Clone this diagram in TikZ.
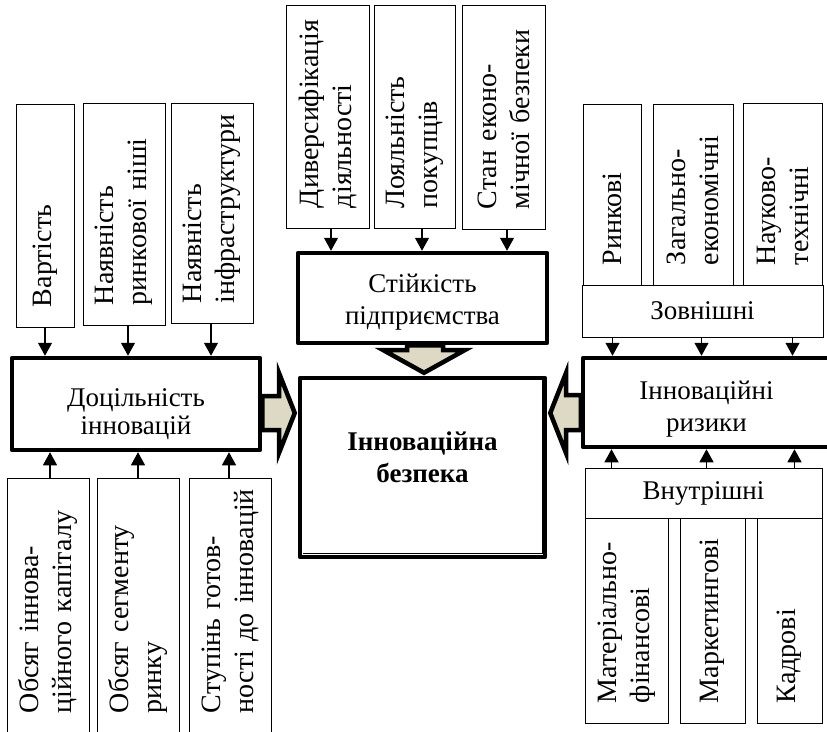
\documentclass[tikz,border=0pt]{standalone}
\usepackage{fontspec}
\setmainfont{Liberation Serif}
\usetikzlibrary{arrows.meta,calc}
\definecolor{arrfill}{RGB}{221,217,196}
\hfuzz=40pt
\hbadness=10000
\begin{document}
\begin{tikzpicture}[x=1pt,y=-1pt,
  every node/.style={font=\fontsize{27}{32}\selectfont},
  vbox/.style={draw, line width=1pt, rotate=90, inner xsep=20pt, align=left, fill=white,
    font=\fontsize{28}{33}\selectfont},
  hbox/.style={draw, line width=1pt, align=center, fill=white},
  tbox/.style={draw, line width=4.5pt, line join=round, fill=white},
  lbl/.style={align=center, inner sep=0pt},
  arr/.style={line width=1.2pt, -{Triangle[width=14pt,length=13pt]}},
  blockarr/.style={draw, line width=4.5pt, fill=arrfill, line join=miter},
  thinline/.style={line width=0.9pt}]
\useasboundingbox (0,0) rectangle (827,731);
\clip (0,0) rectangle (827,731);

% left top
\node[vbox, minimum width=223pt, minimum height=58pt, text width=183pt] (L1) at (45,215.5) {Вартість};
\node[vbox, minimum width=222pt, minimum height=82pt, text width=182pt] (L2) at (124,214) {Наявність\\\mbox{ринкової ніші}};
\node[vbox, minimum width=220pt, minimum height=82pt, text width=180pt] (L3) at (212,213) {Наявність\\\mbox{інфраструктури}};
% top centre
\node[vbox, minimum width=223pt, minimum height=83pt, text width=183pt] (T1) at (327.5,116.5) {\mbox{Диверсифікація}\\діяльності};
\node[vbox, minimum width=223pt, minimum height=81pt, text width=183pt] (T2) at (414.5,116.5) {Лояльність\\покупців};
\node[vbox, minimum width=224pt, minimum height=83pt, text width=184pt] (T3) at (503.5,117) {\mbox{Стан еконо-}\\\mbox{мічної безпеки}};
% right top
\node[vbox, minimum width=181pt, minimum height=58pt, text width=141pt] (R1) at (612,194.5) {Ринкові};
\node[vbox, minimum width=181pt, minimum height=80pt, text width=141pt] (R2) at (693,194.5) {Загально-\\економічні};
\node[vbox, minimum width=182pt, minimum height=79pt, text width=142pt] (R3) at (782.5,194) {Науково-\\технічні};
% left bottom
\node[vbox, minimum width=255pt, minimum height=82pt, text width=215pt] (B1) at (48,605.5) {\mbox{Обсяг іннова-}\\\mbox{ційного капіталу}};
\node[vbox, minimum width=255pt, minimum height=82pt, text width=215pt] (B2) at (138,605.5) {\mbox{Обсяг сегменту}\\ринку};
\node[vbox, minimum width=255pt, minimum height=82pt, text width=215pt] (B3) at (230,605.5) {\mbox{Ступінь готов-}\\\mbox{ності до інновацій}};
% right bottom
\node[vbox, minimum width=205pt, minimum height=83pt, text width=165pt] (BR1) at (626.5,620.5) {Матеріально-\\фінансові};
\node[vbox, minimum width=205pt, minimum height=65pt, text width=165pt] (BR2) at (712.5,620.5) {Маркетингові};
\node[vbox, minimum width=205pt, minimum height=65pt, text width=165pt] (BR3) at (789.5,620.5) {Кадрові};

% main boxes
\node[tbox, minimum width=248pt, minimum height=92pt,
  label={[lbl, name=Dt, yshift=-10pt, font=\fontsize{27}{28}\selectfont]center:Доцільність\\інновацій}] (D) at (136,404) {};
\node[tbox, minimum width=249pt, minimum height=90pt,
  label={[lbl, name=St, yshift=-4pt]center:Стійкість\\підприємства}] (S) at (422.5,298) {};
\node[tbox, minimum width=245pt, minimum height=179pt,
  label={[lbl, name=Mt, yshift=10pt, font=\fontsize{27}{32}\selectfont\bfseries]center:Інноваційна\\безпека}] (M) at (422.5,467.5) {};
\node[tbox, minimum width=247pt, minimum height=89pt,
  label={[lbl, name=IRt, yshift=-7pt]center:Інноваційні\\ризики}] (IR) at (706.5,402.5) {};
\node[hbox, minimum width=241pt, minimum height=52pt] (Z) at (702.5,311) {Зовнішні};
\node[hbox, minimum width=237pt, minimum height=50pt] (V) at (703.5,493) {Внутрішні};

% inner thin line of the main box
\draw[thinline] ($(M.north east)+(-5,4)$) -- ($(M.south east)+(-5,-6)$) -- ($(M.south west)+(5,-6)$);

% thin arrows
\coordinate (l1) at (L1.west);
\coordinate (l2) at ($(L2.west)+(4,0)$);
\coordinate (l3) at ($(L3.west)+(-1,0)$);
\foreach \c in {l1,l2,l3} \draw[arr] (\c) -- (\c |- D.north);
\coordinate (b1) at ($(B1.east)+(2,0)$);
\coordinate (b2) at (B2.east);
\coordinate (b3) at ($(B3.east)+(-1,0)$);
\foreach \c in {b1,b2,b3} \draw[arr] (\c) -- (\c |- D.south);
\coordinate (t1) at ($(T1.west)+(3.5,0)$);
\coordinate (t2) at ($(T2.west)+(7.5,0)$);
\coordinate (t3) at ($(T3.west)+(3.5,0)$);
\foreach \c in {t1,t2,t3} \draw[arr] (\c) -- (\c |- S.north);
\coordinate (z1) at ($(Z.south west)+(31,0)$);
\coordinate (z2) at ($(Z.south west)+(120,0)$);
\coordinate (z3) at ($(Z.south west)+(211,0)$);
\foreach \c in {z1,z2,z3} \draw[arr] (\c) -- (\c |- IR.north);
\coordinate (v1) at ($(V.north west)+(27,0)$);
\coordinate (v2) at ($(V.north west)+(122,0)$);
\coordinate (v3) at ($(V.north west)+(210,0)$);
\foreach \c in {v1,v2,v3} \draw[arr] (\c) -- (\c |- IR.south);

% block arrows
\coordinate (lt) at ($(M.west)+(-3,-54.5)$);
\coordinate (rt) at ($(M.east)+(3,-54.5)$);
\coordinate (dt) at ($(M.north)+(1.5,-3)$);
\draw[blockarr] (D.east |- 0,396) -- (279,396) -- (279,373) -- (lt) -- (279,453) -- (279,430) -- (D.east |- 0,430) -- cycle;
\draw[blockarr] (IR.west |- 0,395) -- (566,395) -- (566,373) -- (rt) -- (566,453) -- (566,430) -- (IR.west |- 0,430) -- cycle;
\draw[blockarr] (S.south -| 407,0) -- (407,350) -- (383,350) -- (dt) -- (465,350) -- (443,350) -- (S.south -| 443,0) -- cycle;
\end{tikzpicture}
\end{document}
